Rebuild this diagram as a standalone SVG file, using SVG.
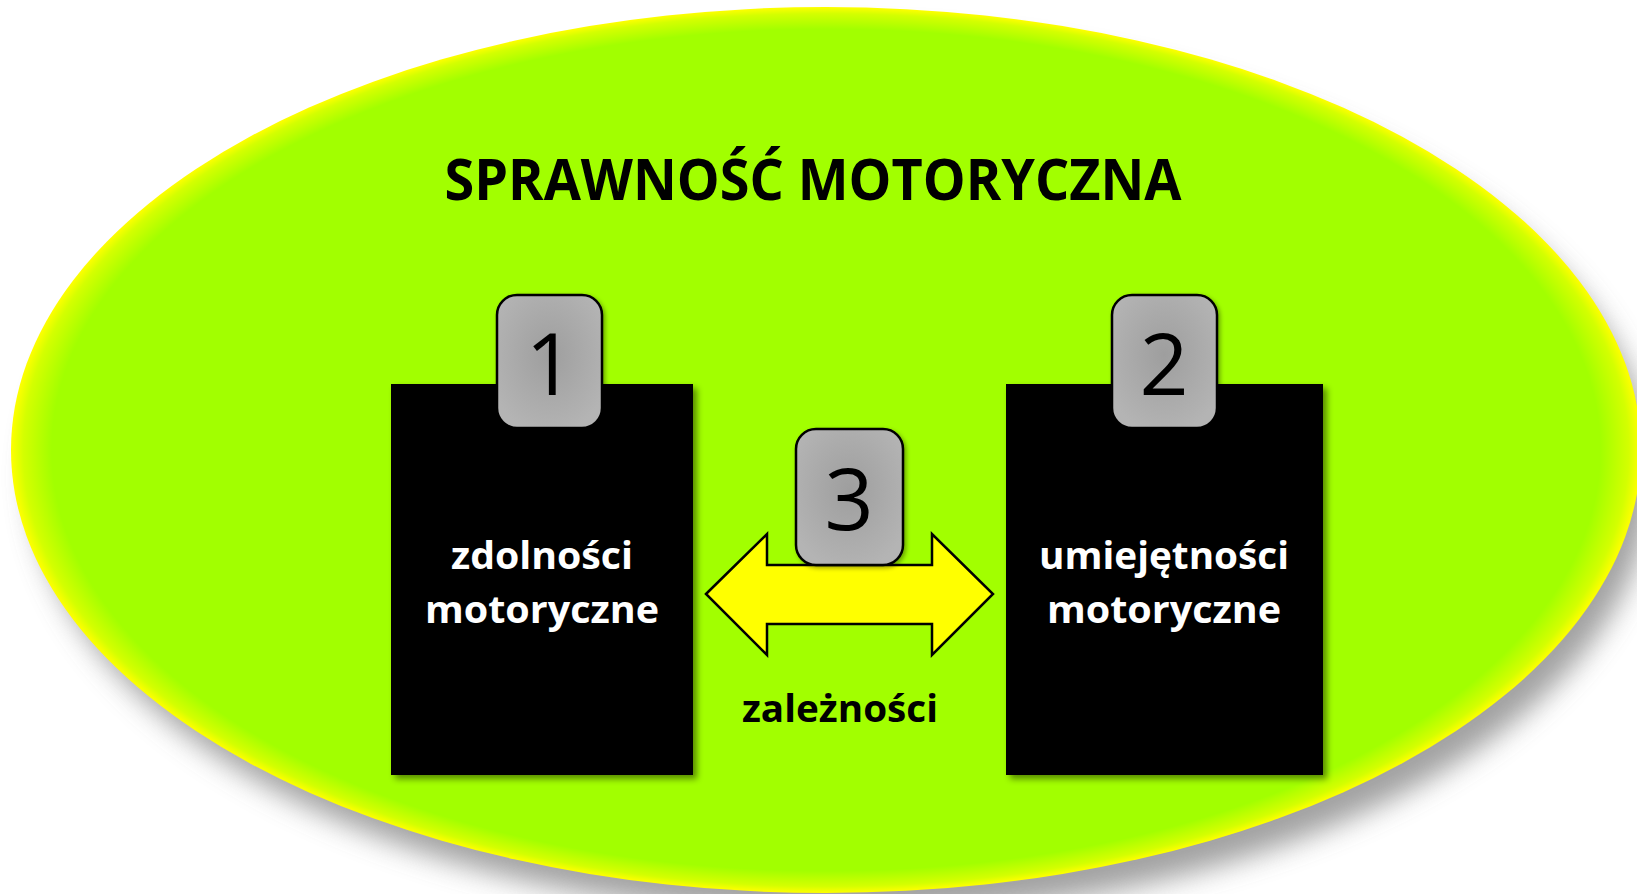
<svg xmlns="http://www.w3.org/2000/svg" width="1637" height="894" viewBox="0 0 1637 894">
  <defs>
    <radialGradient id="ellFill" cx="0.5" cy="0.5" r="0.5">
      <stop offset="0" stop-color="#A2FF00"/>
      <stop offset="0.95" stop-color="#A2FF00"/>
      <stop offset="0.985" stop-color="#D4FF00"/>
      <stop offset="1" stop-color="#FFFF00"/>
    </radialGradient>
    <radialGradient id="tabFill" cx="0.5" cy="0.45" r="0.6">
      <stop offset="0" stop-color="#9E9E9E"/>
      <stop offset="1" stop-color="#B4B4B4"/>
    </radialGradient>
    <filter id="bigShadow" x="-10%" y="-10%" width="120%" height="130%">
      <feGaussianBlur stdDeviation="14"/>
    </filter>
    <filter id="boxShadow" x="-10%" y="-10%" width="130%" height="130%">
      <feDropShadow dx="4" dy="4" stdDeviation="3" flood-color="#000" flood-opacity="0.45"/>
    </filter>
    <filter id="tabShadow" x="-20%" y="-20%" width="140%" height="140%">
      <feDropShadow dx="2" dy="2" stdDeviation="2" flood-color="#000" flood-opacity="0.35"/>
    </filter>
  </defs>
  <style>
    .box { fill: #000000; filter: url(#boxShadow); }
    .tab { fill: url(#tabFill); stroke: #000; stroke-width: 2.5; filter: url(#tabShadow); }
    .num { font-family: "Open Sans", "Liberation Sans", sans-serif; font-size: 86px; fill: #000; text-anchor: middle; }
    .lbl { font-family: "Open Sans", "Liberation Sans", sans-serif; font-weight: bold; font-size: 37px; fill: #fff; text-anchor: middle; }
    .title { font-family: "Open Sans", "Liberation Sans", sans-serif; font-weight: bold; font-size: 57px; fill: #000; text-anchor: middle; }
    .dep { font-family: "Open Sans", "Liberation Sans", sans-serif; font-weight: bold; font-size: 38px; fill: #000; text-anchor: middle; }
    .arrow { fill: #FFFF00; stroke: #000; stroke-width: 2.5; stroke-linejoin: miter; }
  </style>
  <rect width="1637" height="894" fill="#ffffff"/>

  <g id="background">
    <ellipse cx="842" cy="476" rx="810" ry="440" fill="#8a8a8a" opacity="0.8" filter="url(#bigShadow)"/>
    <ellipse cx="826" cy="450" rx="815" ry="443" fill="url(#ellFill)"/>
  </g>

  <g id="title">
    <text class="title" x="813" y="200" textLength="737" lengthAdjust="spacingAndGlyphs">SPRAWNOŚĆ MOTORYCZNA</text>
  </g>

  <g id="connectors">
    <polygon class="arrow" points="706,594 767,534 767,565 932,565 932,534 993,594 932,655 932,624 767,624 767,655"/>
    <text class="dep" x="840" y="722" textLength="196" lengthAdjust="spacingAndGlyphs">zależności</text>
  </g>

  <g id="node1">
    <rect class="box" x="391" y="384" width="302" height="391"/>
    <text class="lbl" x="542" y="569" textLength="182" lengthAdjust="spacingAndGlyphs">zdolności</text>
    <text class="lbl" x="542" y="623" textLength="234" lengthAdjust="spacingAndGlyphs">motoryczne</text>
    <rect class="tab" x="497" y="295" width="105" height="133" rx="20" ry="20"/>
    <text class="num" x="550" y="395">1</text>
  </g>

  <g id="node2">
    <rect class="box" x="1006" y="384" width="317" height="391"/>
    <text class="lbl" x="1164" y="569" textLength="250" lengthAdjust="spacingAndGlyphs">umiejętności</text>
    <text class="lbl" x="1164" y="623" textLength="234" lengthAdjust="spacingAndGlyphs">motoryczne</text>
    <rect class="tab" x="1112" y="295" width="105" height="133" rx="20" ry="20"/>
    <text class="num" x="1164" y="395">2</text>
  </g>

  <g id="node3">
    <rect class="tab" x="796" y="429" width="107" height="136" rx="20" ry="20"/>
    <text class="num" x="849" y="530">3</text>
  </g>
</svg>
